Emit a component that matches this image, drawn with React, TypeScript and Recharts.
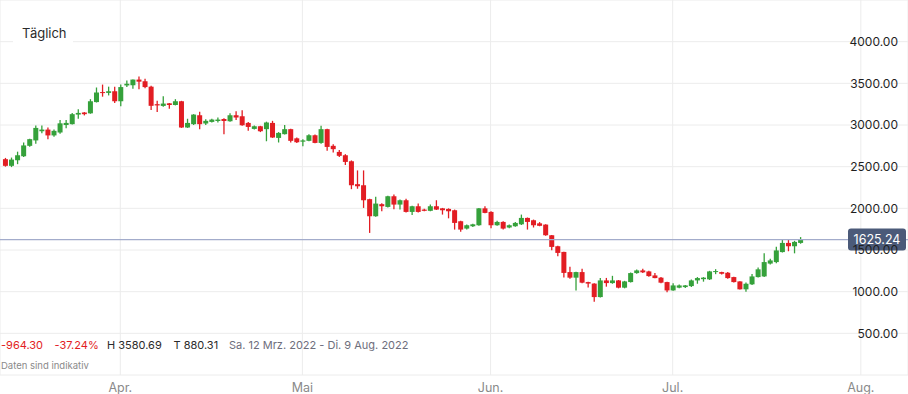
import React from 'react';
import {
  ComposedChart,
  Bar,
  XAxis,
  YAxis,
  CartesianGrid,
  ReferenceLine,
} from 'recharts';

// Tage ab 13. Mrz. 2022 (Index 0)
const opens = [
  2590, 2510, 2577, 2625, 2750, 2815, 2925, 2945, 2875, 2910, 3000, 3010, 3125, 3150, 3140, 3275, 3395, 3385, 3405, 3285,
  3475, 3477, 3545, 3525, 3460, 3250, 3229, 3260, 3240, 3285, 2970, 3010, 3117, 3018, 3037, 3048, 3072, 3045, 3117, 3105,
  3025, 2953, 2985, 2950, 3025, 2845, 2890, 2950, 2840, 2800, 2810, 2877, 2785, 2950, 2750, 2677, 2637, 2565, 2290, 2277,
  2110, 1905, 2050, 2017, 2145, 2045, 2097, 1957, 2025, 1985, 1970, 2025, 2000, 1993, 1977, 1845, 1757, 1785, 1797, 2000,
  1957, 1797, 1837, 1770, 1785, 1808, 1885, 1857, 1820, 1805, 1677, 1545, 1477, 1235, 1168, 1235, 1115, 1097, 935, 1135,
  1103, 1135, 1048, 1115, 1223, 1255, 1243, 1195, 1168, 1115, 1015, 1048, 1055, 1067, 1135, 1150, 1148, 1235, 1235, 1227,
  1175, 1123, 1028, 1088, 1175, 1183, 1337, 1355, 1475, 1585, 1545, 1585,
];
const highs = [
  2605, 2609, 2680, 2790, 2835, 2995, 2995, 2970, 2945, 3060, 3060, 3145, 3190, 3155, 3310, 3450, 3485, 3460, 3460, 3485,
  3535, 3545, 3581, 3555, 3470, 3290, 3345, 3265, 3310, 3290, 3075, 3130, 3160, 3070, 3075, 3090, 3080, 3140, 3165, 3177,
  3035, 2995, 2990, 3040, 3050, 2915, 3000, 2955, 2850, 2830, 2890, 2885, 2990, 2955, 2770, 2700, 2650, 2575, 2455, 2455,
  2115, 2140, 2060, 2150, 2165, 2105, 2115, 2030, 2057, 1995, 2045, 2097, 2005, 2000, 1985, 1850, 1805, 1815, 2005, 2025,
  1965, 1850, 1845, 1805, 1835, 1925, 1890, 1865, 1835, 1810, 1680, 1550, 1480, 1300, 1240, 1275, 1120, 1100, 1165, 1165,
  1190, 1140, 1130, 1230, 1265, 1275, 1250, 1225, 1175, 1120, 1100, 1085, 1080, 1145, 1175, 1175, 1250, 1270, 1240, 1235,
  1180, 1125, 1110, 1213, 1290, 1460, 1395, 1540, 1625, 1625, 1610, 1655,
];
const lows = [
  2500, 2495, 2530, 2615, 2740, 2775, 2900, 2830, 2860, 2895, 2960, 3005, 3075, 3115, 3135, 3270, 3340, 3355, 3265, 3225,
  3455, 3435, 3430, 3440, 3180, 3155, 3220, 3195, 3235, 2965, 2965, 3000, 2950, 3000, 3030, 3030, 2890, 3040, 3060, 2990,
  2930, 2945, 2915, 2805, 2845, 2790, 2885, 2790, 2785, 2745, 2805, 2780, 2775, 2690, 2670, 2615, 2520, 2230, 2235, 2005,
  1705, 1900, 1965, 2010, 1990, 1985, 1950, 1920, 1950, 1965, 1965, 1980, 1925, 1880, 1745, 1720, 1745, 1775, 1790, 1940,
  1760, 1790, 1745, 1760, 1780, 1800, 1745, 1770, 1785, 1670, 1497, 1425, 1170, 1155, 1015, 1100, 1050, 880, 930, 1060,
  1095, 1040, 1040, 1110, 1215, 1225, 1180, 1160, 1100, 993, 1010, 1040, 1045, 1055, 1095, 1120, 1140, 1210, 1205, 1155,
  1110, 1025, 1000, 1080, 1170, 1175, 1325, 1340, 1470, 1485, 1460, 1575,
];
const closes = [
  2510, 2585, 2637, 2755, 2830, 2965, 2945, 2875, 2930, 3020, 3025, 3130, 3145, 3130, 3285, 3390, 3390, 3405, 3285, 3455,
  3495, 3545, 3520, 3455, 3230, 3235, 3257, 3240, 3285, 2970, 3025, 3125, 3010, 3050, 3065, 3065, 3048, 3117, 3090, 2997,
  2977, 2985, 2925, 3030, 2850, 2905, 2950, 2810, 2793, 2815, 2877, 2785, 2950, 2737, 2710, 2630, 2557, 2277, 2265, 2097,
  1905, 2057, 2025, 2145, 2045, 2097, 1957, 2025, 1957, 1970, 2025, 1985, 1977, 1965, 1825, 1745, 1797, 1808, 2000, 1945,
  1797, 1837, 1757, 1797, 1825, 1885, 1837, 1797, 1790, 1677, 1537, 1465, 1225, 1168, 1235, 1108, 1097, 935, 1135, 1103,
  1135, 1048, 1123, 1223, 1255, 1232, 1187, 1163, 1108, 1015, 1075, 1075, 1075, 1135, 1163, 1168, 1243, 1247, 1215, 1163,
  1115, 1028, 1095, 1183, 1268, 1355, 1375, 1495, 1585, 1545, 1597, 1625.24,
];

// Monatsanfang als Tagesindex
const monthDays = [19, 49, 80, 110, 141];
const monthLabels = ['Apr.', 'Mai', 'Jun.', 'Jul.', 'Aug.'];
const priceTicks = [500, 1000, 1500, 2000, 2500, 3000, 3500, 4000];
const lastPrice = 1625.24;

const UP = '#35a13b';
const DOWN = '#e21d23';
const FONT = 'Inter, "Noto Sans", sans-serif';

const data = opens.map((o, i) => ({
  d: i,
  o,
  h: highs[i],
  l: lows[i],
  c: closes[i],
  range: [lows[i], highs[i]],
}));

const Candle = (props: any) => {
  const { x, y, width, height, payload } = props;
  const { o, h, l, c } = payload;
  const color = c >= o ? UP : DOWN;
  const top = Math.min(y, y + height);
  const full = Math.abs(height);
  const k = h === l ? 0 : full / (h - l);
  const bodyTop = top + (h - Math.max(o, c)) * k;
  const bodyH = Math.max(1, Math.abs(o - c) * k);
  const cx = x + width / 2;
  return (
    <g>
      <line x1={cx} x2={cx} y1={top} y2={top + full} stroke={color} strokeWidth={1.3} />
      <rect x={x} y={bodyTop} width={width} height={bodyH} fill={color} />
    </g>
  );
};

const PriceTick = (props: any) => {
  const { x, y, payload } = props;
  return (
    <text x={x} y={y} dy="0.36em" textAnchor="end" fill="#1f1f1f" fontSize={12} fontFamily={FONT}>
      {payload.value.toFixed(2)}
    </text>
  );
};

const MonthTick = (props: any) => {
  const { x, y, payload } = props;
  const idx = monthDays.indexOf(payload.value);
  return (
    <text x={x} y={y + 15} textAnchor="middle" fill="#8a8a8a" fontSize={12.5} fontFamily={FONT}>
      {monthLabels[idx]}
    </text>
  );
};

const PriceBadge = (props: any) => {
  const { viewBox } = props;
  const right = viewBox.x + viewBox.width - 2;
  return (
    <g>
      <rect x={right - 58} y={viewBox.y - 11} width={58} height={22} rx={3} fill="#4b5a79" />
      <text
        x={right - 29}
        y={viewBox.y}
        dy="0.36em"
        textAnchor="middle"
        fill="#ffffff"
        fontSize={12.5}
        fontFamily={FONT}
      >
        {lastPrice.toFixed(2)}
      </text>
    </g>
  );
};

export default function App() {
  return (
    <div style={{ position: 'absolute', left: 0, top: 0, width: 908, height: 394, background: '#fff' }}>
      <ComposedChart width={908} height={394} data={data} margin={{ top: 0, right: 0, bottom: 0, left: 0 }}>
        <CartesianGrid stroke="#ececec" />
        <XAxis
          type="number"
          dataKey="d"
          domain={[-0.82, 148.77]}
          allowDataOverflow
          ticks={monthDays}
          tick={<MonthTick />}
          axisLine={false}
          tickLine={false}
          tickSize={0}
          height={19}
          interval={0}
        />
        <YAxis
          orientation="right"
          mirror
          domain={[0, 4500]}
          ticks={priceTicks}
          tick={<PriceTick />}
          axisLine={false}
          tickLine={false}
          tickSize={0}
          tickMargin={10}
        />
        <ReferenceLine y={lastPrice} stroke="#a3accb" strokeWidth={1.2} label={<PriceBadge />} />
        <Bar dataKey="range" barSize={5} shape={<Candle />} isAnimationActive={false} />
      </ComposedChart>
      <svg
        width={908}
        height={394}
        style={{ position: 'absolute', left: 0, top: 0, pointerEvents: 'none' }}
        fontFamily={FONT}
      >
        <rect x={13} y={22} width={60} height={26} fill="#ffffff" />
        <text x={22} y={37.5} fontSize={13} fill="#2b2b2b">Täglich</text>
        <text y={348.5} fontSize={11}>
          <tspan x={1} fill={DOWN}>-964.30</tspan>
          <tspan x={54.5} fill={DOWN}>-37.24%</tspan>
          <tspan x={107} fill="#2b2b2b">H 3580.69</tspan>
          <tspan x={173.5} fill="#2b2b2b">T 880.31</tspan>
          <tspan x={229} fill="#6e6e7c">Sa. 12 Mrz. 2022 - Di. 9 Aug. 2022</tspan>
        </text>
        <text x={1} y={368.5} fontSize={9.5} fill="#8a8a8a">Daten sind indikativ</text>
      </svg>
    </div>
  );
}
